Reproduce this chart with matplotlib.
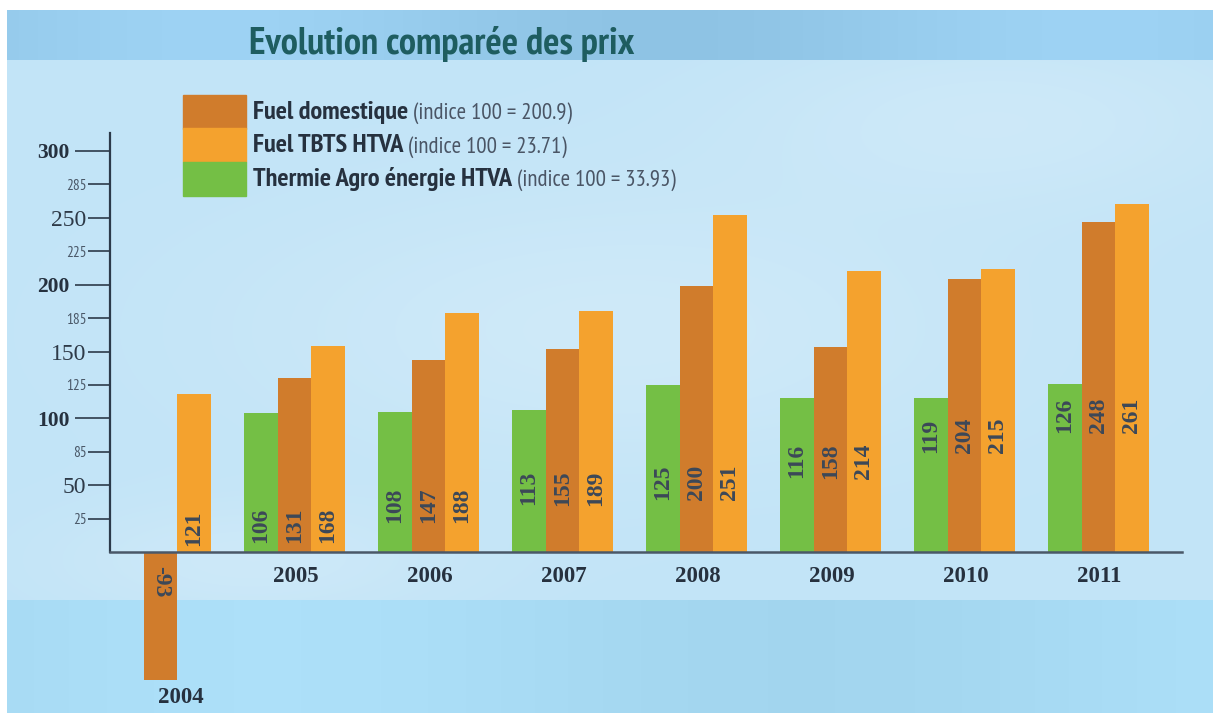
import numpy as np
import matplotlib
matplotlib.use('Agg')
import matplotlib.pyplot as plt
from matplotlib import font_manager as fm
from matplotlib.patches import Rectangle

# data
years = ['2004', '2005', '2006', '2007', '2008', '2009', '2010', '2011']
series = ['Fuel domestique', 'Fuel TBTS HTVA', 'Thermie Agro énergie HTVA']
indices = ['(indice 100 = 200.9)', '(indice 100 = 23.71)', '(indice 100 = 33.93)']

# printed values on the bars
fuel_dom_txt = [-93, 131, 147, 155, 200, 158, 204, 248]
fuel_tbts_txt = [121, 168, 188, 189, 251, 214, 215, 261]
thermie_txt = [None, 106, 108, 113, 125, 116, 119, 126]

# bar heights as drawn in the original
fuel_dom = [-96, 130, 144, 152, 199, 153, 204, 247]
fuel_tbts = [118, 154, 179, 180, 252, 210, 212, 260]
thermie = [None, 104, 105, 106, 125, 115, 115, 126]

ytick_vals = [300, 275, 250, 225, 200, 175, 150, 125, 100, 75, 50, 25]
ytick_txt = ['300', '285', '250', '225', '200', '185', '150', '125', '100', '85', '50', '25']

c_dom = '#d07c2c'
c_tbts = '#f4a22e'
c_th = '#74bf45'
txt_dark = '#26313f'
val_col = '#3c4858'

# pick a narrow sans that is installed
installed = set(f.name for f in fm.fontManager.ttflist)
narrow = 'Liberation Sans'
for cand in ['PT Sans Narrow', 'Fira Sans Condensed', 'Roboto Condensed',
             'Open Sans Condensed', 'Liberation Sans Narrow']:
    if cand in installed:
        narrow = cand
        break
NARROW = [narrow, 'DejaVu Sans']

W, H = 1213, 713
fig = plt.figure(figsize=(W / 100, H / 100), dpi=100)

# sky background
yy, xx = np.mgrid[0:H, 0:W]
img = np.zeros((H, W, 3))
main = np.array([194, 228, 247]) / 255
top = np.array([150, 203, 236]) / 255
bot = np.array([168, 219, 244]) / 255
img[:] = main
cloud = (np.exp(-(((xx - 620) / 380) ** 2 + ((yy - 330) / 140) ** 2)) * 0.6
         + np.exp(-(((xx - 1000) / 260) ** 2 + ((yy - 120) / 90) ** 2)) * 0.5
         + np.exp(-(((xx - 250) / 200) ** 2 + ((yy - 560) / 60) ** 2)) * 0.5)
img = img + (1 - img) * cloud[..., None] * 0.35
img[yy < 60] = top + (np.sin(xx[yy < 60] / 140.0)[:, None] * 0.03)
img[yy >= 600] = bot + (np.sin(xx[yy >= 600] / 170.0)[:, None] * 0.02)
img = np.clip(img, 0, 1)
img[:10, :] = 1
img[:, :7] = 1
bg = fig.add_axes([0, 0, 1, 1], zorder=0)
bg.imshow(img, aspect='auto', interpolation='bilinear')
bg.axis('off')

# main plot, 1 unit = 134 px in x, 401 px = 300 in y
k = 401 / 300
y_top = (552 - 133) / k
y_bot = -(700 - 552) / k
ax = fig.add_axes([110 / W, 1 - 700 / H, (1182 - 110) / W, (700 - 133) / H], zorder=1)
ax.set_facecolor('none')
ax.set_xlim(0, 8)
ax.set_ylim(y_bot, y_top)

x = np.arange(len(years))
bw = 0.25
for i in range(len(years)):
    if thermie[i] is not None:
        ax.bar(x[i] + 0.125, thermie[i], bw, color=c_th, zorder=2)
    ax.bar(x[i] + 0.375, fuel_dom[i], bw, color=c_dom, zorder=2)
    ax.bar(x[i] + 0.625, fuel_tbts[i], bw, color=c_tbts, zorder=2)

# value labels inside bars
label_mid = [18, 20, 35, 48, 52, 68, 87, 102]
vfont = dict(family='Liberation Serif', weight='bold', size=17, color=val_col,
             ha='center', va='center', zorder=3)
for i in range(len(years)):
    if thermie_txt[i] is not None:
        ax.text(x[i] + 0.125, label_mid[i], str(thermie_txt[i]), rotation=90, **vfont)
    if fuel_dom_txt[i] < 0:
        ax.text(x[i] + 0.375, -22, str(fuel_dom_txt[i]), rotation=270, **vfont)
    else:
        ax.text(x[i] + 0.375, label_mid[i], str(fuel_dom_txt[i]), rotation=90, **vfont)
    ax.text(x[i] + 0.625, label_mid[i], str(fuel_tbts_txt[i]), rotation=90, **vfont)

# year labels
for i, yr in enumerate(years):
    if i == 0:
        ax.text(x[i] + 0.53, -108.5, yr, family='Liberation Serif', weight='bold',
                size=16.5, color=txt_dark, ha='center', va='center')
    else:
        ax.text(x[i] + 0.385, -18, yr, family='Liberation Serif', weight='bold',
                size=16.5, color=txt_dark, ha='center', va='center')

# axes lines
axis_col = '#2c3a4a'
for s in ['top', 'right']:
    ax.spines[s].set_visible(False)
ax.spines['left'].set_bounds(0, y_top)
ax.spines['left'].set_color(axis_col)
ax.spines['left'].set_linewidth(1.6)
ax.spines['bottom'].set_position(('data', 0))
ax.spines['bottom'].set_color('#4a5868')
ax.spines['bottom'].set_linewidth(1.8)
ax.set_xticks([])

major = [v for v in ytick_vals if v % 100 == 0]
minor = [v for v in ytick_vals if v % 100 != 0]
ax.set_yticks(major, [ytick_txt[ytick_vals.index(v)] for v in major])
ax.set_yticks(minor, [ytick_txt[ytick_vals.index(v)] for v in minor], minor=True)
ax.tick_params(axis='y', which='major', length=25, width=1.2, color=axis_col, pad=4)
ax.tick_params(axis='y', which='minor', length=16, width=1.2, color=axis_col, pad=1)
for lab in ax.get_yticklabels():
    lab.set_fontfamily('Liberation Serif')
    lab.set_fontweight('bold')
    lab.set_fontsize(15.5)
    lab.set_color(txt_dark)
for v, lab in zip(minor, ax.get_yticklabels(minor=True)):
    if v % 50 == 0:
        lab.set_fontfamily('Liberation Serif')
        lab.set_fontsize(17)
        lab.set_color('#2e3a48')
    else:
        lab.set_fontfamily(NARROW)
        lab.set_fontsize(11)
        lab.set_color('#4a5868')

# title
fig.text(249 / W, 1 - 54 / H, 'Evolution comparée des prix',
         family=NARROW, weight='bold',
         size=27.5, color='#1e5d60', va='baseline', ha='left', zorder=3)

# legend
renderer = fig.canvas.get_renderer()
colors = [c_dom, c_tbts, c_th]
for j in range(3):
    y0 = 95 + j * 33.5
    fig.patches.append(Rectangle((183 / W, 1 - (y0 + 33.5) / H), 63 / W, 33.5 / H,
                                 transform=fig.transFigure, color=colors[j], zorder=3))
    t = fig.text(253 / W, 1 - (y0 + 24) / H, series[j],
                 family=NARROW, weight='bold',
                 size=19, color=txt_dark, va='baseline', ha='left', zorder=3)
    x1 = t.get_window_extent(renderer).x1
    fig.text((x1 + 5) / W, 1 - (y0 + 24) / H, indices[j],
             family=NARROW, size=16.5, color='#4a5565',
             va='baseline', ha='left', zorder=3)

plt.savefig('out.png', dpi=100)
